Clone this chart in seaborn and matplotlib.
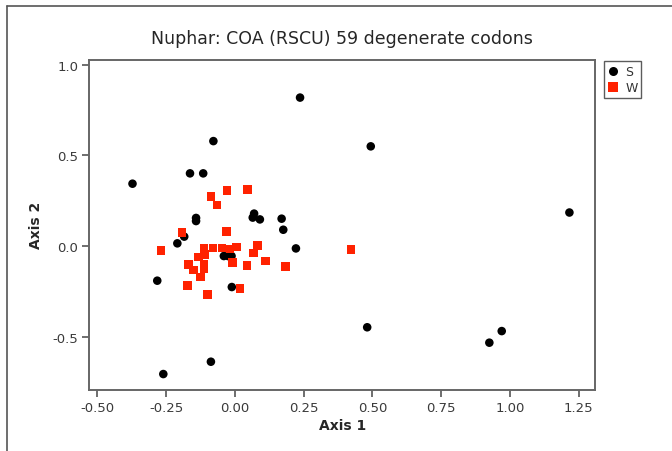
import matplotlib
matplotlib.use("Agg")
import matplotlib.pyplot as plt
import seaborn as sns
import pandas as pd
from matplotlib.lines import Line2D

# ---- data ----
s_x = [-0.078, -0.163, -0.115, -0.372, 0.237, 0.494, 1.216, 0.170, 0.176, 0.222,
       0.481, 0.970, 0.925, -0.141, -0.141, 0.070, 0.065, 0.091, -0.184, -0.209,
       -0.040, -0.025, -0.012, -0.282, -0.011, -0.087, -0.260]
s_y = [0.579, 0.401, 0.401, 0.344, 0.819, 0.550, 0.185, 0.151, 0.090, -0.013,
       -0.448, -0.469, -0.533, 0.155, 0.138, 0.179, 0.157, 0.147, 0.052, 0.015,
       -0.055, -0.055, -0.055, -0.191, -0.226, -0.638, -0.706]

w_x = [-0.087, -0.065, -0.028, 0.045, -0.031, -0.192, -0.269, -0.112, -0.079, -0.046,
       -0.018, 0.006, 0.083, 0.067, -0.132, -0.108, 0.112, 0.185, 0.044, -0.009,
       -0.168, -0.112, -0.151, -0.112, -0.124, -0.172, 0.019, -0.099, 0.422]
w_y = [0.272, 0.226, 0.305, 0.313, 0.081, 0.076, -0.024, -0.013, -0.011, -0.011,
       -0.016, -0.005, 0.002, -0.038, -0.060, -0.046, -0.083, -0.114, -0.108, -0.090,
       -0.101, -0.101, -0.132, -0.123, -0.171, -0.217, -0.235, -0.268, -0.018]

groups = ["S", "W"]
x_ticks = [-0.50, -0.25, 0.00, 0.25, 0.50, 0.75, 1.00, 1.25]
y_ticks = [-0.5, 0.0, 0.5, 1.0]
title = "Nuphar: COA (RSCU) 59 degenerate codons"

df = pd.DataFrame({
    "Axis 1": s_x + w_x,
    "Axis 2": s_y + w_y,
    "group": [groups[0]] * len(s_x) + [groups[1]] * len(w_x),
})

sns.set_style("white")
plt.rcParams["font.family"] = ["DejaVu Sans"]

W, H = 672, 452
fig = plt.figure(figsize=(W / 100, H / 100), dpi=100)
ax = fig.add_axes([89.3 / W, 1 - 391 / H, (595 - 89.3) / W, (391 - 60.7) / H])

sns.scatterplot(data=df, x="Axis 1", y="Axis 2", hue="group", style="group",
                palette={"S": "#000000", "W": "#FF2200"},
                markers={"S": "o", "W": "s"}, s=38, linewidth=0,
                ax=ax, legend=False)

ax.set_xlim(-0.529, 1.309)
ax.set_ylim(-0.794, 1.028)
ax.set_xticks(x_ticks)
ax.set_xticklabels([f"{v:.2f}" for v in x_ticks])
ax.set_yticks(y_ticks)
ax.set_yticklabels([f"{v:.1f}" for v in y_ticks])
ax.tick_params(axis="both", which="both", direction="out", length=5, width=1.2,
               color="#555555", labelsize=9.5, labelcolor="#3a3a3a",
               bottom=True, left=True, top=False, right=False, pad=3)
for sp in ax.spines.values():
    sp.set_color("#666666")
    sp.set_linewidth(1.4)

ax.set_xlabel("Axis 1", fontsize=10, fontweight="bold", labelpad=3)
ax.set_ylabel("Axis 2", fontsize=10, fontweight="bold", labelpad=7)
fig.text(342 / W, 1 - 39 / H, title, ha="center", va="center", fontsize=12.5)

handles = [
    Line2D([], [], marker="o", color="none", markerfacecolor="#000000",
           markeredgewidth=0, markersize=6.5, label=groups[0]),
    Line2D([], [], marker="s", color="none", markerfacecolor="#FF2200",
           markeredgewidth=0, markersize=6.5, label=groups[1]),
]
leg = fig.legend(handles=handles, loc="upper left",
                 bbox_to_anchor=(604 / W, 1 - 62.3 / H),
                 frameon=True, fancybox=False, edgecolor="#333333",
                 fontsize=9, handlelength=0.8, handletextpad=0.6,
                 borderpad=0.3, labelspacing=0.25, borderaxespad=0)
leg.get_frame().set_linewidth(1.0)
for t in leg.get_texts():
    t.set_color("#333333")

# outer frame lines (left and top) of the exported picture
fig.add_artist(Line2D([7 / W, 7 / W], [0, 1 - 7 / H], transform=fig.transFigure,
                      color="#555555", linewidth=1.2))
fig.add_artist(Line2D([7 / W, 1], [1 - 7 / H, 1 - 7 / H], transform=fig.transFigure,
                      color="#555555", linewidth=1.2))

fig.savefig("out.png", dpi=100, facecolor="white")
